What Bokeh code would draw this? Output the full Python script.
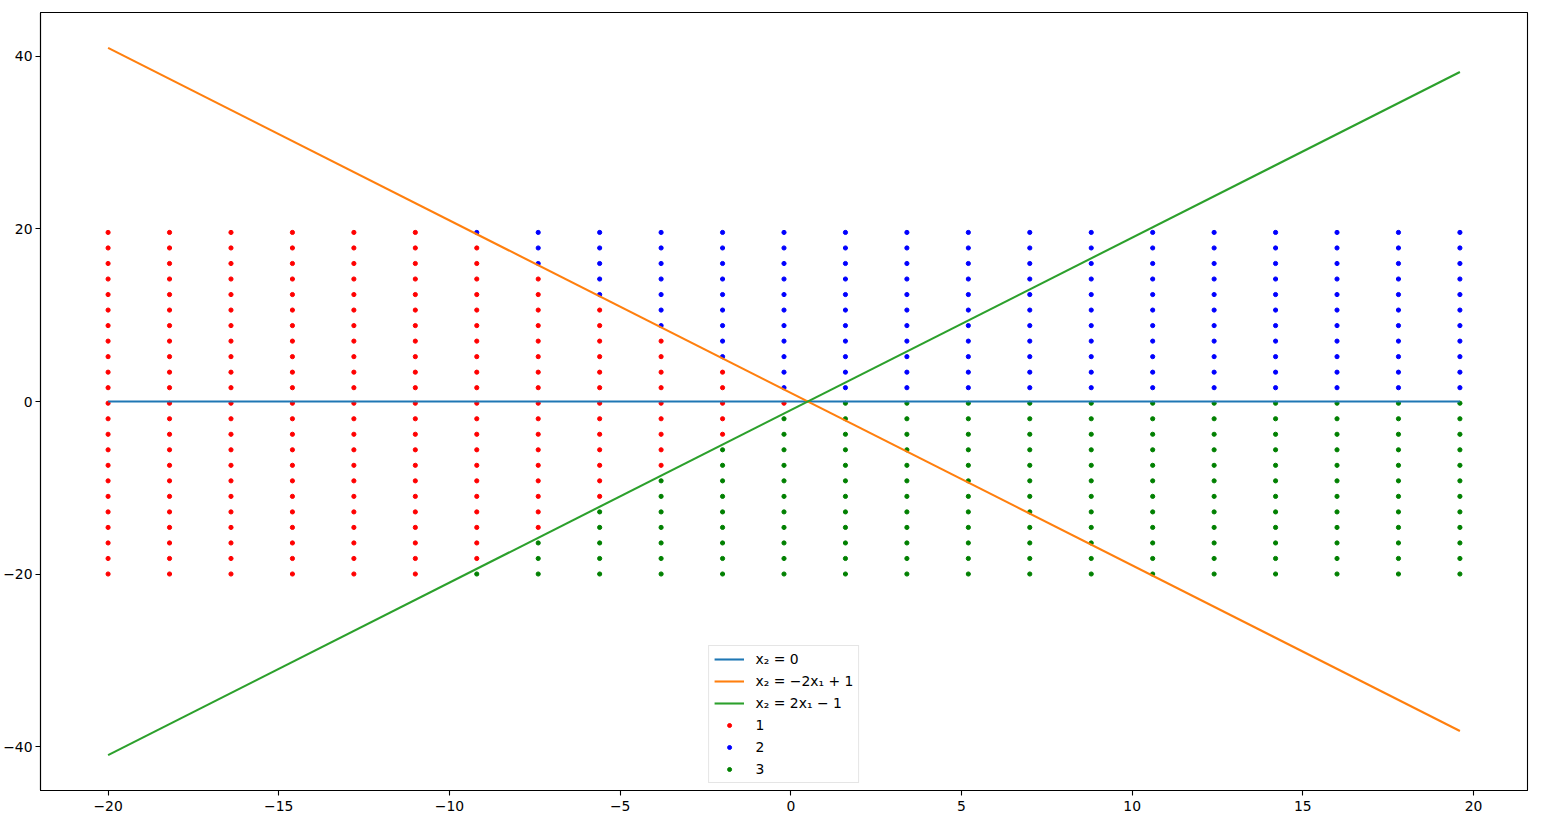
from bokeh.plotting import figure
from bokeh.models import Range1d, FixedTicker, Legend, LegendItem
from bokeh.embed import file_html
from bokeh.resources import INLINE

# grid coordinates (columns of x1, rows of x2)
x_vals = [-20.0, -18.2, -16.4, -14.6, -12.8, -11.0, -9.2, -7.4, -5.6, -3.8, -2.0, -0.2,
          1.6, 3.4, 5.2, 7.0, 8.8, 10.6, 12.4, 14.2, 16.0, 17.8, 19.6]
y_vals = [-20.0, -18.2, -16.4, -14.6, -12.8, -11.0, -9.2, -7.4, -5.6, -3.8, -2.0, -0.2,
          1.6, 3.4, 5.2, 7.0, 8.8, 10.6, 12.4, 14.2, 16.0, 17.8, 19.6]
# per column, counted from the bottom: class 3 (green), then class 1 (red), then class 2 (blue)
n_class3 = [0, 0, 0, 0, 0, 0, 1, 3, 5, 7, 9, 11, 12, 12, 12, 12, 12, 12, 12, 12, 12, 12, 12]
n_class1 = [23, 23, 23, 23, 23, 23, 21, 17, 13, 9, 5, 1, 0, 0, 0, 0, 0, 0, 0, 0, 0, 0, 0]
n_class2 = [0, 0, 0, 0, 0, 0, 1, 3, 5, 7, 9, 11, 11, 11, 11, 11, 11, 11, 11, 11, 11, 11, 11]

# boundary lines
line_x = [-20.0, 19.6]
line0_y = [0.0, 0.0]
line1_y = [41.0, -38.2]
line2_y = [-41.0, 38.2]

labels = ["x₂ = 0", "x₂ = −2x₁ + 1", "x₂ = 2x₁ − 1", "1", "2", "3"]
x_ticks = [-20, -15, -10, -5, 0, 5, 10, 15, 20]
y_ticks = [-40, -20, 0, 20, 40]

pts = {1: ([], []), 2: ([], []), 3: ([], [])}
for x, g, r, b in zip(x_vals, n_class3, n_class1, n_class2):
    for k, yv in enumerate(y_vals):
        if k < g:
            c = 3
        elif k < g + r:
            c = 1
        else:
            c = 2
        pts[c][0].append(x)
        pts[c][1].append(yv)

FONT = "DejaVu Sans"
p = figure(frame_width=1487, frame_height=778, output_backend="svg", toolbar_location=None,
           x_range=Range1d(-21.98, 21.58), y_range=Range1d(-45.1, 45.1),
           min_border_left=33, min_border_top=12, min_border_right=25, min_border_bottom=38)
p.background_fill_color = "white"
p.border_fill_color = "white"
p.outline_line_color = "black"
p.outline_line_width = 1.1
p.xgrid.visible = False
p.ygrid.visible = False

def fmt(v):
    return str(v).replace("-", "−")

for ax, ticks in ((p.xaxis, x_ticks), (p.yaxis, y_ticks)):
    ax.ticker = FixedTicker(ticks=ticks)
    ax.major_label_overrides = {t: fmt(t) for t in ticks}
    ax.minor_tick_line_color = None
    ax.major_tick_in = 0
    ax.major_tick_out = 5
    ax.major_tick_line_width = 1.1
    ax.axis_line_width = 1.1
    ax.major_label_text_font = FONT
    ax.major_label_text_font_size = "13.9px"
    ax.major_label_text_color = "black"
p.xaxis.major_label_standoff = 5
p.yaxis.major_label_standoff = 3

s1 = p.scatter(pts[1][0], pts[1][1], size=4.2, color="red")
s2 = p.scatter(pts[2][0], pts[2][1], size=4.2, color="blue")
s3 = p.scatter(pts[3][0], pts[3][1], size=4.2, color="green")

l0 = p.line(line_x, line0_y, line_width=2.08, color="#1f77b4")
l1 = p.line(line_x, line1_y, line_width=2.08, color="#ff7f0e")
l2 = p.line(line_x, line2_y, line_width=2.08, color="#2ca02c")

legend = Legend(items=[LegendItem(label=lab, renderers=[r]) for lab, r in
                       zip(labels, [l0, l1, l2, s1, s2, s3])],
                location="bottom_center", margin=7, padding=5, spacing=6,
                glyph_width=30, glyph_height=10, label_height=10, label_standoff=12,
                label_text_font=FONT, label_text_font_size="13.9px",
                label_text_color="black",
                border_line_color="#cccccc", border_line_width=1,
                background_fill_alpha=0.8)
p.add_layout(legend)

open("out.html", "w").write(file_html(p, INLINE))
